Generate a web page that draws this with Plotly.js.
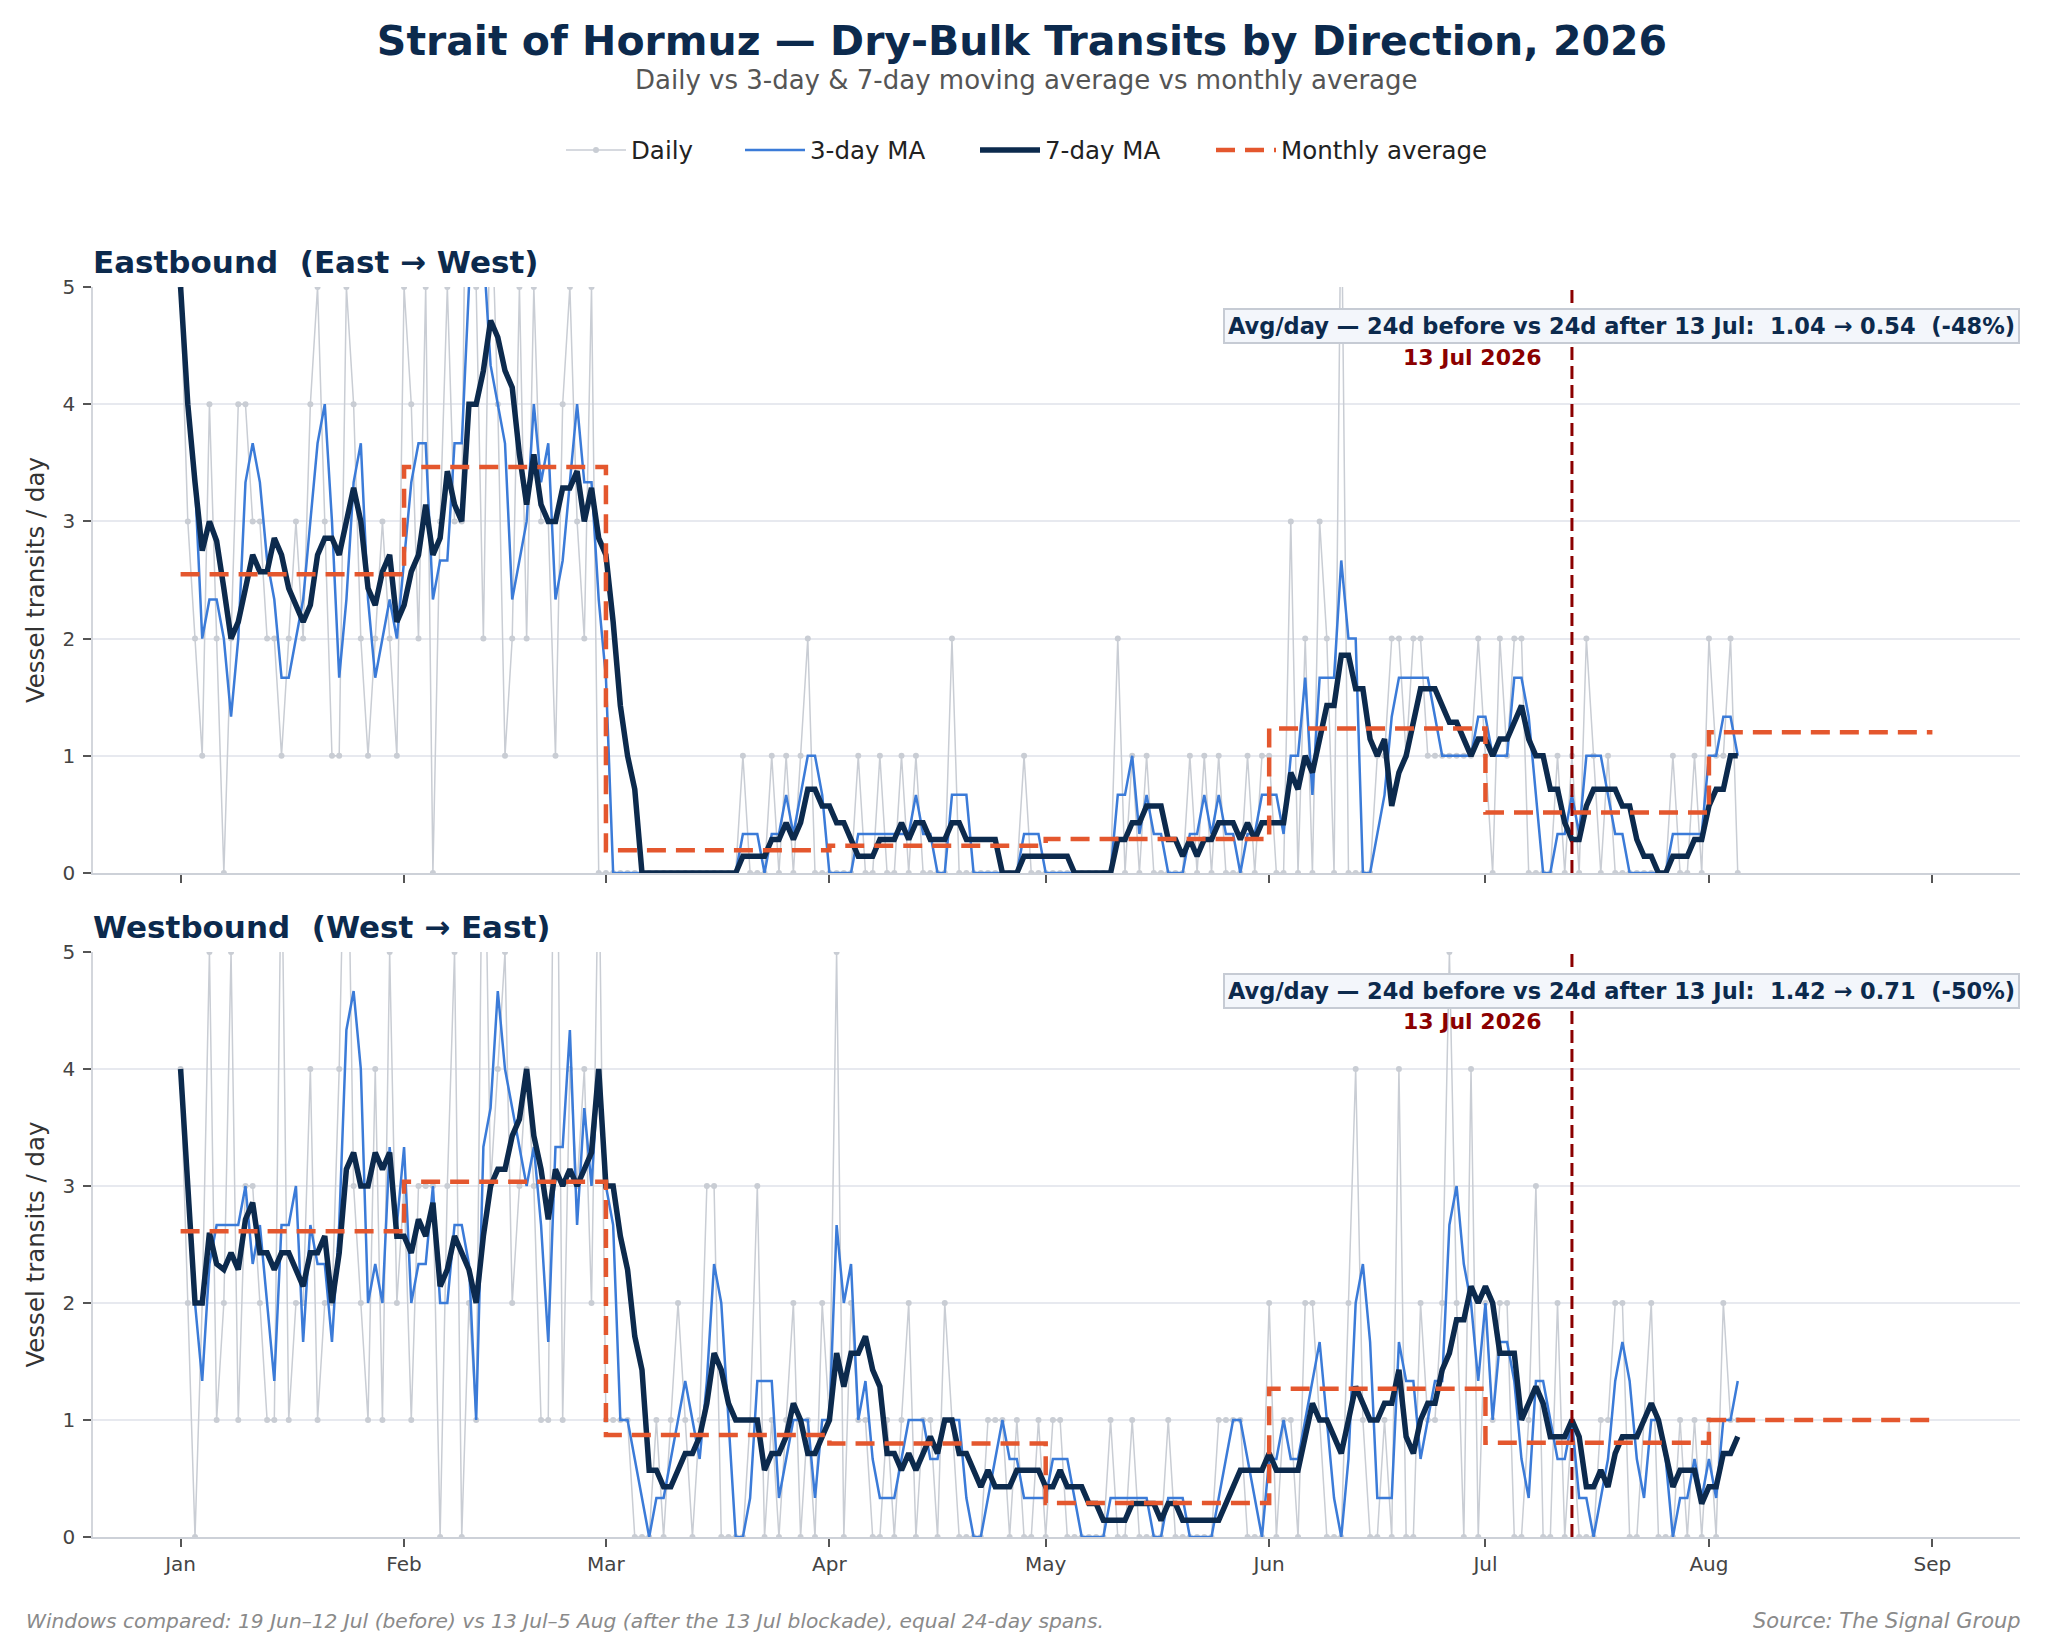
<!DOCTYPE html>
<html><head><meta charset="utf-8">
<script src="https://cdn.plot.ly/plotly-3.0.1.min.js"></script>
<style>html,body{margin:0;padding:0;background:#fff}#chart{width:2046px;height:1636px}</style>
</head><body><div id="chart"></div>
<script>
// ---------- Eastbound daily transits (1 Jan – 5 Aug 2026) ----------
const ebJan = [5,3,2,1,4,2,0,2,4,4, 3,3,2,2,1,2,3,2,4,5, 3,1,1,5,4,2,1,2,3,2,1];
const ebFeb = [5,4,2,5,0,3,5,3,3,9, 5,2,6,4,1,2,5,2,5,3, 3,1,4,5,3,2,5,0];
const ebMar = [0,0,0,0,0,0,0,0,0,0, 0,0,0,0,0,0,0,0,0,1, 0,0,0,1,0,1,0,1,2,0, 0];
const ebApr = [0,0,0,0,1,0,0,1,0,0, 1,0,1,0,0,0,0,2,0,0, 0,0,0,0,0,0,0,1,0,0];
const ebMay = [0,0,0,0,0,0,0,0,0,0, 2,0,1,0,1,0,0,0,0,0, 1,0,1,0,1,0,0,0,1,0, 1];
const ebJun = [1,0,0,3,0,2,0,3,2,0, 6,0,0,0,0,1,1,2,2,1, 2,2,1,1,1,1,1,1,1,2];
const ebJul = [1,0,2,1,2,2,0,0,0,0, 1,0,1,0,2,1,0,1,0,0, 0,0,0,0,0,0,1,0,0,1, 0];
const ebAug = [2,1,1,2,0];

// ---------- Westbound daily transits (1 Jan – 5 Aug 2026) ----------
const wbJan = [4,2,0,2,5,1,2,5,1,3, 3,2,1,1,6,1,2,2,4,1, 2,2,4,7,3,2,1,4,1,5, 2];
const wbFeb = [3,1,3,3,3,0,3,5,0,2, 1,7,3,4,5,2,3,4,3,1, 1,8,1,4,3,4,2,6];
const wbMar = [1,1,1,1,0,0,0,1,0,1, 2,1,0,1,3,3,0,0,0,0, 1,3,0,1,0,1,2,0,1,0, 2];
const wbApr = [1,5,0,2,1,1,0,0,1,0, 1,2,0,1,1,0,2,1,0,0, 0,0,1,1,1,0,1,0,0,1];
const wbMay = [0,1,1,0,0,0,0,0,0,1, 0,0,1,0,0,0,0,1,0,0, 0,0,0,0,1,1,1,1,0,0, 0];
const wbJun = [2,0,1,1,0,2,2,1,0,0, 0,2,4,1,0,0,1,0,4,0, 0,2,1,1,2,5,2,0,4,0];
const wbJul = [2,1,2,2,0,0,1,3,0,0, 2,0,1,0,0,0,1,1,2,2, 0,0,1,2,0,0,0,1,0,1, 0];
const wbAug = [1,0,2,1,1];

// ---------- Labels / categories ----------
const monthStarts = ['2026-01-01','2026-02-01','2026-03-01','2026-04-01','2026-05-01','2026-06-01','2026-07-01','2026-08-01','2026-09-01'];
const monthLabels = ['Jan','Feb','Mar','Apr','May','Jun','Jul','Aug','Sep'];
const seriesNames = ['Daily','3-day MA','7-day MA','Monthly average'];
const panelTitles = ['Eastbound\u00a0 (East \u2192 West)','Westbound\u00a0 (West \u2192 East)'];
const eventDate = '2026-07-13';
const eventLabel = '13 Jul 2026';
const windowDays = 24;

const ebMonths = [ebJan,ebFeb,ebMar,ebApr,ebMay,ebJun,ebJul,ebAug];
const wbMonths = [wbJan,wbFeb,wbMar,wbApr,wbMay,wbJun,wbJul,wbAug];

// ---------- derived ----------
const DAY = 86400000;
const t0 = Date.UTC(2026,0,1);
function iso(ms){ return new Date(ms).toISOString().slice(0,10); }
function isoFull(ms){ return new Date(ms).toISOString().slice(0,19).replace('T',' '); }

function build(months){
  const daily = [].concat(...months);
  const dates = daily.map((_,i)=>iso(t0 + i*DAY));
  const roll = w => daily.map((_,i)=>{ const s=Math.max(0,i-w+1); let t=0; for(let j=s;j<=i;j++) t+=daily[j]; return t/(i-s+1); });
  const mAvg = months.map(m => m.reduce((a,b)=>a+b,0)/m.length);
  mAvg.push(mAvg[mAvg.length-1]);
  const idx = dates.indexOf(eventDate);
  const mean = a => a.reduce((x,y)=>x+y,0)/a.length;
  const before = mean(daily.slice(idx-windowDays, idx));
  const after = mean(daily.slice(idx, idx+windowDays));
  return {daily, dates, ma3: roll(3), ma7: roll(7), mAvg, before, after};
}
const E = build(ebMonths), W = build(wbMonths);

const C = {daily:'#c9cdd4', ma3:'#3b7bd8', ma7:'#0c2a4d', month:'#e4572e', event:'#8b0000', navy:'#0c2a4d'};
const FONT = 'DejaVu Sans';

function traces(D, xa, ya, show){
  return [
    {x:D.dates, y:D.daily, xaxis:xa, yaxis:ya, name:seriesNames[0], type:'scatter', mode:'lines+markers',
     line:{color:C.daily, width:1.5}, marker:{color:C.daily, size:6}, showlegend:show, legend:'legend'},
    {x:D.dates, y:D.ma3, xaxis:xa, yaxis:ya, name:seriesNames[1], type:'scatter', mode:'lines',
     line:{color:C.ma3, width:2.5}, showlegend:show, legend:'legend2'},
    {x:D.dates, y:D.ma7, xaxis:xa, yaxis:ya, name:seriesNames[2], type:'scatter', mode:'lines',
     line:{color:C.ma7, width:5.5}, showlegend:show, legend:'legend3'},
    {x:monthStarts, y:D.mAvg, xaxis:xa, yaxis:ya, name:seriesNames[3], type:'scatter', mode:'lines',
     line:{color:C.month, width:4.5, dash:'19px,10px', shape:'hv'}, showlegend:show, legend:'legend4'}
  ];
}
const data = [].concat(traces(E,'x','y',true), traces(W,'x2','y2',false));

const span = (Date.UTC(2026,8,1) - t0);
const xr = [isoFull(t0 - 0.05*span), isoFull(Date.UTC(2026,8,1) + 0.05*span)];

const xCommon = {type:'date', range:xr, tickvals:monthStarts, ticktext:monthLabels, ticks:'outside', ticklen:8, tickwidth:1.6,
  tickcolor:'#555', showgrid:false, showline:true, linecolor:'#cdd1d8', linewidth:2, zeroline:false,
  tickfont:{size:20, color:'#444'}};
const yCommon = {range:[0,5], tickvals:[0,1,2,3,4,5], ticks:'outside', ticklen:8, tickwidth:1.6, tickcolor:'#555',
  showgrid:true, gridcolor:'#e7e9ef', gridwidth:1.5, showline:true, linecolor:'#d3d6dc', linewidth:1.5, zeroline:false,
  tickfont:{size:20, color:'#444'}, ticklabelstandoff:4,
  title:{text:'Vessel transits / day', font:{size:24.5, color:'#333'}, standoff:11}};

function fmt(v){ return v.toFixed(2); }
function boxText(D){
  const pct = Math.round((D.after/D.before - 1)*100);
  return '<b>Avg/day \u2014 '+windowDays+'d before vs '+windowDays+'d after 13 Jul:\u00a0 '+fmt(D.before)+' \u2192 '+fmt(D.after)+'\u00a0 ('+pct+'%)</b>';
}
function panelAnn(D, xa, ya, title){
  return [
    {xref:'paper', yref:ya+' domain', x:-0.0012, y:1.043, xanchor:'left', yanchor:'middle', showarrow:false,
     text:'<b>'+title+'</b>', font:{size:31, color:C.navy}},
    {xref:xa+' domain', yref:ya+' domain', x:1.0, y:0.9326, xanchor:'right', yanchor:'middle', showarrow:false,
     text:boxText(D), font:{size:22.5, color:C.navy}, bgcolor:'#f3f6fb', bordercolor:'#c6cbd4', borderwidth:2, borderpad:3},
    {xref:xa, yref:ya+' domain', x:eventDate, y:0.8805, xanchor:'right', yanchor:'middle', xshift:-28, showarrow:false,
     text:'<b>'+eventLabel+'</b>', font:{size:22, color:C.event}}
  ];
}

const legBase = {orientation:'h', y:1.1096, yanchor:'middle', xanchor:'left', bgcolor:'rgba(0,0,0,0)', borderwidth:0,
  font:{size:24.5, color:'#222'}, itemwidth:60};
const layout = {
  width:2046, height:1636, paper_bgcolor:'#fff', plot_bgcolor:'#fff',
  font:{family:FONT, color:'#333'},
  margin:{l:93, r:26, t:287, b:99, autoexpand:false},
  title:{text:'<b>Strait of Hormuz \u2014 Dry-Bulk Transits by Direction, 2026</b>', font:{size:41, color:C.navy},
    x:1022/2046, xref:'container', xanchor:'center', y:1-41/1636, yref:'container', yanchor:'middle'},
  xaxis:Object.assign({}, xCommon, {domain:[0,1], anchor:'y', showticklabels:false}),
  yaxis:Object.assign({}, yCommon, {domain:[0.5312,1], anchor:'x'}),
  xaxis2:Object.assign({}, xCommon, {domain:[0,1], anchor:'y2', matches:'x'}),
  yaxis2:Object.assign({}, yCommon, {domain:[0,0.468], anchor:'x2'}),
  legend:Object.assign({}, legBase, {x:(561-93)/1927}),
  legend2:Object.assign({}, legBase, {x:(740-93)/1927}),
  legend3:Object.assign({}, legBase, {x:(975-93)/1927}),
  legend4:Object.assign({}, legBase, {x:(1211-93)/1927}),
  shapes:[
    {type:'line', xref:'x', yref:'y domain', x0:eventDate, x1:eventDate, y0:0, y1:1, line:{color:C.event, width:3, dash:'13px,6px'}},
    {type:'line', xref:'x2', yref:'y2 domain', x0:eventDate, x1:eventDate, y0:0, y1:1, line:{color:C.event, width:3, dash:'13px,6px'}}
  ],
  annotations:[].concat(
    [{xref:'paper', yref:'paper', x:(1026-93)/1927, y:(1537-80)/1250, xanchor:'center', yanchor:'middle', showarrow:false,
      text:'Daily vs 3-day &amp; 7-day moving average vs monthly average', font:{size:26, color:'#555'}}],
    panelAnn(E,'x','y',panelTitles[0]),
    panelAnn(W,'x2','y2',panelTitles[1]),
    [{xref:'paper', yref:'paper', x:(24-93)/1927, y:(1537-1621)/1250, xanchor:'left', yanchor:'middle', showarrow:false,
      text:'<i>Windows compared: 19 Jun\u201312 Jul (before) vs 13 Jul\u20135 Aug (after the 13 Jul blockade), equal 24-day spans.</i>',
      font:{size:20.2, color:'#8a8a8a'}},
     {xref:'paper', yref:'paper', x:(2023-93)/1927, y:(1537-1621)/1250, xanchor:'right', yanchor:'middle', showarrow:false,
      text:'<i>Source: The Signal Group</i>', font:{size:21, color:'#8a8a8a'}}]
  )
};
Plotly.newPlot('chart', data, layout, {displayModeBar:false, responsive:false});
</script>
</body></html>
